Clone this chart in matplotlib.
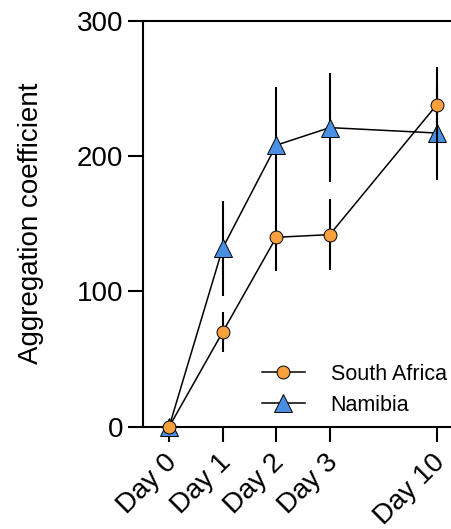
import matplotlib
matplotlib.use("Agg")
import matplotlib.pyplot as plt
import matplotlib.transforms as mtrans
from matplotlib.lines import Line2D

# Datos
days      = ["Day 0", "Day 1", "Day 2", "Day 3", "Day 10"]
x_pos     = [0, 1, 2, 3, 5]
sa_mean   = [0, 70, 140, 142, 238]
sa_err    = [0, 15, 25, 26, 28]
nam_mean  = [0, 132, 208, 221, 217]
nam_err   = [0, 35, 43, 40, 35]

C_SA  = "#F7A03C"
C_NAM = "#4A90E2"

plt.rcParams.update({
    "font.family": ["Liberation Sans", "DejaVu Sans"],
    "axes.linewidth": 1.5,
})

fig = plt.figure(figsize=(4.52, 5.29), dpi=100)
ax = fig.add_axes([0.316, 0.193, 0.710, 0.768])

ax.errorbar(x_pos, nam_mean, yerr=nam_err, color="black", lw=1.1, elinewidth=1.5,
            marker="^", ms=12.5, mfc=C_NAM, mec="black", mew=0.7, capsize=0,
            clip_on=False, zorder=3)
ax.errorbar(x_pos, sa_mean, yerr=sa_err, color="black", lw=1.1, elinewidth=1.5,
            marker="o", ms=9.3, mfc=C_SA, mec="black", mew=0.7, capsize=0,
            clip_on=False, zorder=4)

ax.set_xlim(-0.49, 5.5)
ax.set_ylim(0, 300)
ax.set_yticks([0, 100, 200, 300])
ax.set_xticks(x_pos)
ax.set_xticklabels(days, rotation=45, ha="right", va="center", rotation_mode="anchor")
ax.tick_params(axis="both", length=11, width=1.5, labelsize=20, pad=3)
ax.tick_params(axis="x", pad=12)
ax.set_ylabel("Aggregation coefficient", fontsize=20, labelpad=24)

# desplazar un poco las etiquetas del eje x a la derecha
shift = mtrans.ScaledTranslation(4 / 100, 0, fig.dpi_scale_trans)
for lbl in ax.get_xticklabels():
    lbl.set_transform(lbl.get_transform() + shift)

handles = [
    Line2D([], [], color="black", lw=1.1, marker="o", ms=9.3, mfc=C_SA, mec="black", mew=0.7),
    Line2D([], [], color="black", lw=1.1, marker="^", ms=12.5, mfc=C_NAM, mec="black", mew=0.7),
]
ax.legend(handles, ["South Africa", "Namibia"], loc="lower left",
          bbox_to_anchor=(0.31, -0.02), frameon=False, fontsize=15.5,
          handlelength=2.0, handletextpad=1.2, labelspacing=0.45)

fig.savefig("out.png", dpi=100)
